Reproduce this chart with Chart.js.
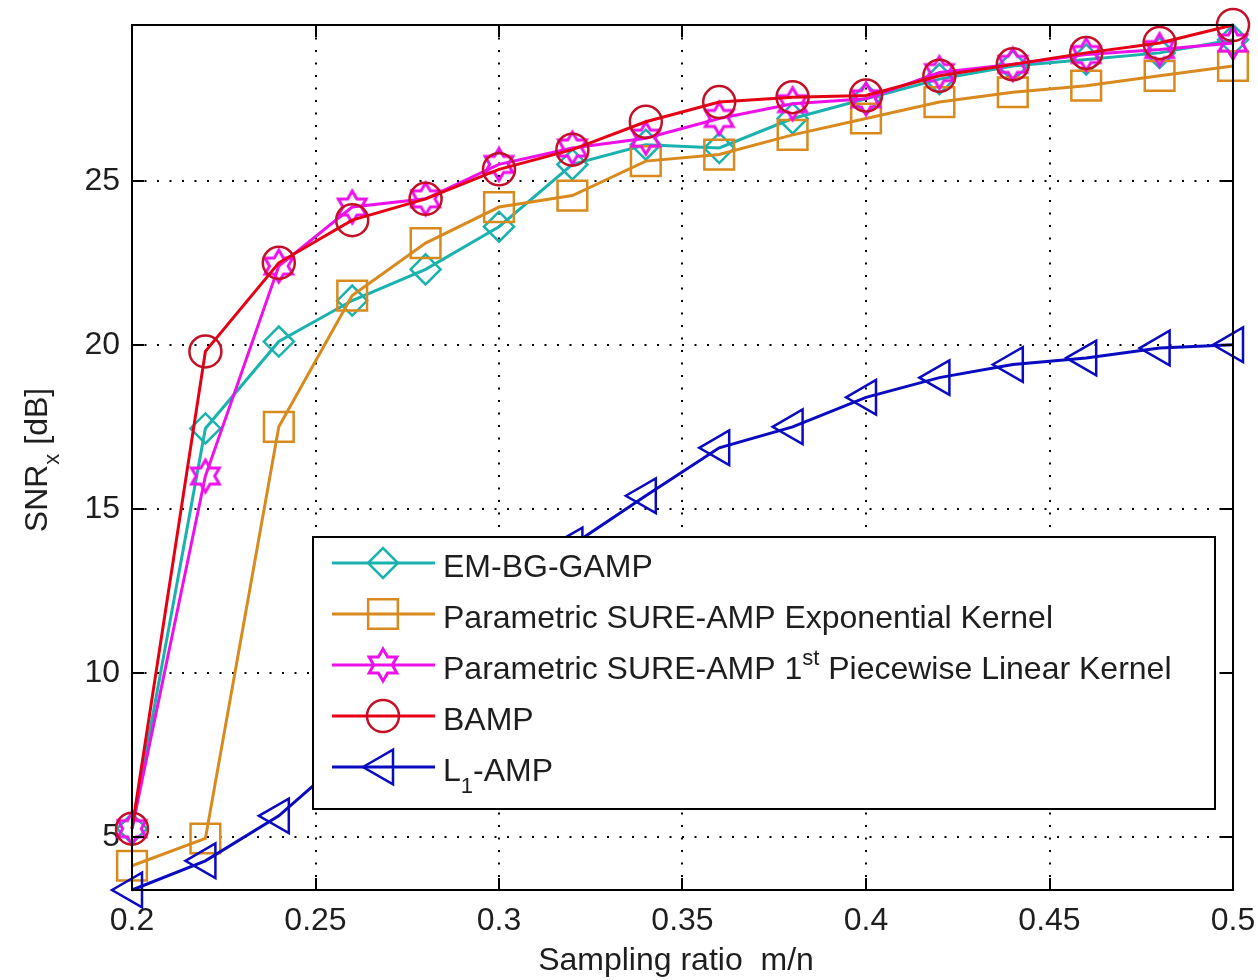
<!DOCTYPE html>
<html>
<head>
<meta charset="utf-8">
<script src="https://cdn.jsdelivr.net/npm/chart.js@4.4.0/dist/chart.umd.min.js"></script>
<style>
  body { margin: 0; background: #fff; }
</style>
</head>
<body>
<canvas id="myChart" width="1258" height="980"></canvas>
<script>
// SNR of the recovered signal vs. sampling ratio, one array per algorithm
const ratios = [0.2, 0.22, 0.24, 0.26, 0.28, 0.3, 0.32, 0.34, 0.36, 0.38, 0.4, 0.42, 0.44, 0.46, 0.48, 0.5]
const emBgGamp = [5.25, 17.45, 20.1, 21.35, 22.3, 23.6, 25.5, 26.1, 26.0, 26.9, 27.5, 28.1, 28.5, 28.7, 28.9, 29.3]
const sureExp = [4.12, 4.95, 17.5, 21.5, 23.1, 24.2, 24.55, 25.6, 25.8, 26.4, 26.9, 27.4, 27.7, 27.9, 28.2, 28.5]
const surePwl = [5.25, 16.0, 22.4, 24.2, 24.45, 25.5, 26.0, 26.3, 26.9, 27.35, 27.5, 28.3, 28.55, 28.85, 29.0, 29.2]
const bamp = [5.25, 19.8, 22.5, 23.8, 24.45, 25.35, 25.95, 26.8, 27.4, 27.55, 27.6, 28.2, 28.55, 28.9, 29.2, 29.75]
const l1Amp = [3.38, 4.27, 5.64, 7.6, 9.7, 11.8, 13.9, 15.4, 16.86, 17.5, 18.4, 19.0, 19.4, 19.6, 19.9, 20.0]

const seriesNames = [
	'EM-BG-GAMP',
	'Parametric SURE-AMP Exponential Kernel',
	'Parametric SURE-AMP 1^{st} Piecewise Linear Kernel',
	'BAMP',
	'L_{1}-AMP'
]

const xTicks = [0.2, 0.25, 0.3, 0.35, 0.4, 0.45, 0.5]
const yTicks = [5, 10, 15, 20, 25]

const FONT = "'Liberation Sans', Arial, sans-serif"
const TEXT_COLOR = '#1e1e1e'

// axis tight: y range is exactly the data range
const allValues = [].concat(emBgGamp, sureExp, surePwl, bamp, l1Amp)
const yMin = Math.min(...allValues)
const yMax = Math.max(...allValues)

// six pointed star marker drawn on a small canvas
function hexagram(color, r) {
	const c = document.createElement('canvas')
	const s = Math.ceil(r * 2 + 6)
	c.width = s
	c.height = s
	const g = c.getContext('2d')
	g.strokeStyle = color
	g.lineWidth = 3
	g.beginPath()
	for (let k = 0; k < 12; k++) {
		const a = -Math.PI / 2 + k * Math.PI / 6
		const rr = k % 2 ? r * 0.58 : r
		g.lineTo(s / 2 + rr * Math.cos(a), s / 2 + rr * Math.sin(a))
	}
	g.closePath()
	g.stroke()
	return c
}

function pts(values) {
	return ratios.map((r, i) => ({x: r, y: values[i]}))
}

// text with ^{..} superscripts and _{..} subscripts
function drawRich(ctx, str, x, y, size, measureOnly) {
	const parts = []
	const re = /([\^_])\{([^}]*)\}/g
	let last = 0, m
	while ((m = re.exec(str)) !== null) {
		if (m.index > last) parts.push({t: str.slice(last, m.index), k: ''})
		parts.push({t: m[2], k: m[1]})
		last = re.lastIndex
	}
	if (last < str.length) parts.push({t: str.slice(last), k: ''})
	let cx = x
	parts.forEach(p => {
		const fs = p.k ? Math.round(size * 0.68) : size
		ctx.font = fs + 'px ' + FONT
		const dy = p.k === '^' ? -size * 0.44 : (p.k === '_' ? size * 0.38 : 0)
		if (!measureOnly) ctx.fillText(p.t, cx, y + dy)
		cx += ctx.measureText(p.t).width
	})
	return cx - x
}

const styles = [
	{color: '#19b2ae', marker: '#19b2ae', pointStyle: 'rectRot', radius: 15, rotation: 0},
	{color: '#d98a1e', marker: '#d98a1e', pointStyle: 'rect', radius: 21, rotation: 0},
	{color: '#ee10e8', marker: '#ee10e8', pointStyle: hexagram('#ee10e8', 16), radius: 16, rotation: 0},
	{color: '#e60014', marker: '#c41026', pointStyle: 'circle', radius: 16, rotation: 0},
	{color: '#0a0ac0', marker: '#0a0ac0', pointStyle: 'triangle', radius: 20, rotation: 270}
]

const seriesValues = [emBgGamp, sureExp, surePwl, bamp, l1Amp]

const datasets = seriesValues.map((vals, i) => ({
	label: seriesNames[i].replace(/[\^_]\{([^}]*)\}/g, '$1'),
	data: pts(vals),
	borderColor: styles[i].color,
	borderWidth: 3,
	pointStyle: styles[i].pointStyle,
	pointRadius: styles[i].radius,
	pointRotation: styles[i].rotation,
	pointBorderColor: styles[i].marker,
	pointBackgroundColor: 'rgba(0,0,0,0)',
	pointBorderWidth: 2.5,
	tension: 0,
	clip: false,
	order: seriesValues.length - 1 - i
}))

// box, inward ticks on four sides
const framePlugin = {
	id: 'frame',
	afterDatasetsDraw(chart) {
		const {ctx, chartArea: a, scales: {x, y}} = chart
		ctx.save()
		ctx.strokeStyle = '#000'
		ctx.lineWidth = 2
		ctx.strokeRect(a.left, a.top, a.right - a.left, a.bottom - a.top)
		ctx.beginPath()
		xTicks.forEach(v => {
			const px = Math.round(x.getPixelForValue(v))
			ctx.moveTo(px, a.bottom); ctx.lineTo(px, a.bottom - 12)
			ctx.moveTo(px, a.top); ctx.lineTo(px, a.top + 12)
		})
		yTicks.forEach(v => {
			const py = Math.round(y.getPixelForValue(v))
			ctx.moveTo(a.left, py); ctx.lineTo(a.left + 12, py)
			ctx.moveTo(a.right, py); ctx.lineTo(a.right - 12, py)
		})
		ctx.stroke()
		ctx.restore()
	}
}

// boxed legend and axis titles (needs sub/superscripts)
const legendPlugin = {
	id: 'boxLegend',
	afterDraw(chart) {
		const ctx = chart.ctx
		const box = {left: 313, top: 537, right: 1215, bottom: 809}
		ctx.save()
		ctx.fillStyle = '#fff'
		ctx.fillRect(box.left, box.top, box.right - box.left, box.bottom - box.top)
		ctx.strokeStyle = '#000'
		ctx.lineWidth = 2
		ctx.strokeRect(box.left, box.top, box.right - box.left, box.bottom - box.top)

		chart.data.datasets.forEach((ds, i) => {
			const rowY = 563 + i * 51
			ctx.strokeStyle = ds.borderColor
			ctx.lineWidth = 3
			ctx.beginPath()
			ctx.moveTo(332, rowY)
			ctx.lineTo(435, rowY)
			ctx.stroke()
			ctx.strokeStyle = ds.pointBorderColor
			ctx.fillStyle = 'rgba(0,0,0,0)'
			ctx.lineWidth = ds.pointBorderWidth
			Chart.helpers.drawPoint(ctx, {
				pointStyle: ds.pointStyle,
				radius: ds.pointRadius,
				rotation: ds.pointRotation,
				borderWidth: ds.pointBorderWidth
			}, 383, rowY)
			ctx.fillStyle = TEXT_COLOR
			ctx.textBaseline = 'alphabetic'
			drawRich(ctx, seriesNames[i], 443, rowY + 14, 32)
		})

		// x title
		ctx.fillStyle = TEXT_COLOR
		ctx.textBaseline = 'alphabetic'
		const xt = 'Sampling ratio  m/n'
		const w = drawRich(ctx, xt, 0, 0, 32, true)
		drawRich(ctx, xt, 676 - w / 2, 970, 32)

		// y title, rotated
		const yt = 'SNR_{x} [dB]'
		ctx.translate(47, 460)
		ctx.rotate(-Math.PI / 2)
		const wy = drawRich(ctx, yt, 0, 0, 32, true)
		drawRich(ctx, yt, -wy / 2, 0, 32)
		ctx.restore()
	}
}

const ctx = document.getElementById('myChart').getContext('2d')

const myChart = new Chart(ctx, {
	type: 'line',
	data: {datasets: datasets},
	options: {
		responsive: false,
		animation: false,
		layout: {padding: {left: 0, top: 25, right: 25, bottom: 0}},
		plugins: {
			legend: {display: false},
			tooltip: {enabled: false}
		},
		scales: {
			x: {
				type: 'linear',
				min: 0.2,
				max: 0.5,
				afterBuildTicks: s => { s.ticks = xTicks.map(v => ({value: v})) },
				afterFit: s => {
					s.height = 90
					s.paddingLeft = 0
					s.paddingRight = 0
				},
				grid: {color: '#000', lineWidth: 2, drawTicks: false},
				border: {display: false, dash: [2, 10.5]},
				ticks: {
					font: {family: FONT, size: 32},
					color: TEXT_COLOR,
					padding: 12,
					maxRotation: 0,
					autoSkip: false,
					callback: v => String(v)
				}
			},
			y: {
				type: 'linear',
				min: yMin,
				max: yMax,
				afterBuildTicks: s => { s.ticks = yTicks.map(v => ({value: v})) },
				afterFit: s => {
					s.width = 132
					s.paddingTop = 0
					s.paddingBottom = 0
				},
				grid: {color: '#000', lineWidth: 2, drawTicks: false},
				border: {display: false, dash: [2, 10.5]},
				ticks: {
					font: {family: FONT, size: 32},
					color: TEXT_COLOR,
					padding: 12,
					autoSkip: false,
					callback: v => String(v)
				}
			}
		}
	},
	plugins: [framePlugin, legendPlugin]
})

myChart.update()
</script>
</body>
</html>
